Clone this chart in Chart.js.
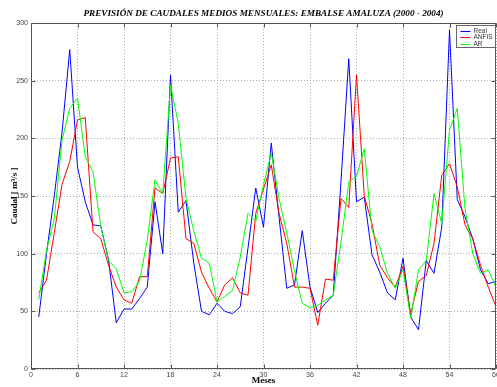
<!DOCTYPE html>
<html>
<head>
<meta charset="utf-8">
<script src="https://cdn.jsdelivr.net/npm/chart.js@4.4.1/dist/chart.umd.min.js"></script>
<style>
  html, body { margin: 0; padding: 0; background: #fff; }
  #wrap { width: 497px; height: 387px; }
</style>
</head>
<body>
<div id="wrap"><canvas id="chart" width="497" height="387"></canvas></div>
<script>
// months 1..60 (2000 - 2004)
const months = [1, 2, 3, 4, 5, 6, 7, 8, 9, 10, 11, 12, 13, 14, 15, 16, 17, 18, 19, 20,
    21, 22, 23, 24, 25, 26, 27, 28, 29, 30, 31, 32, 33, 34, 35, 36, 37, 38, 39, 40,
    41, 42, 43, 44, 45, 46, 47, 48, 49, 50, 51, 52, 53, 54, 55, 56, 57, 58, 59, 60];

const real = [45, 100, 150, 205, 277, 175, 145, 125, 124, 95, 40, 52, 52, 61, 71, 145, 100, 255, 136, 146,
    92, 50, 47, 57, 50, 48, 54, 105, 157, 123, 196, 132, 70, 73, 120, 71, 49, 57, 64, 163,
    269, 145, 149, 99, 84, 66, 60, 96, 45, 34, 94, 83, 123, 294, 147, 132, 113, 86, 74, 76];

const anfis = [66, 77, 118, 160, 180, 216, 218, 119, 113, 90, 71, 60, 57, 80, 80, 157, 152, 183, 184, 113,
    109, 84, 70, 58, 73, 79, 66, 64, 135, 156, 177, 135, 109, 71, 71, 70, 38, 78, 77, 148,
    140, 255, 150, 126, 90, 79, 71, 89, 48, 76, 81, 109, 168, 178, 158, 125, 113, 90, 71, 54];

const ar = [60, 103, 130, 198, 226, 235, 184, 171, 124, 94, 87, 66, 67, 76, 112, 164, 152, 246, 213, 148,
    120, 96, 92, 58, 63, 68, 97, 135, 128, 160, 187, 148, 118, 85, 57, 53, 55, 60, 64, 110,
    162, 167, 191, 120, 106, 83, 70, 86, 44, 86, 94, 152, 126, 207, 226, 139, 100, 83, 86, 71];

const xTicks = [0, 6, 12, 18, 24, 30, 36, 42, 48, 54, 60];
const yTicks = [0, 50, 100, 150, 200, 250, 300];

function toPoints(values) {
    return months.map((m, i) => ({ x: m, y: values[i] }));
}

// MATLAB style box, inward ticks and legend box
const matlabFrame = {
    id: 'matlabFrame',
    afterDraw(chart) {
        const { ctx, chartArea: a, scales: { x, y } } = chart;
        ctx.save();
        ctx.strokeStyle = '#555';
        ctx.lineWidth = 1;
        const l = Math.round(a.left) + 0.5, r = Math.round(a.right) - 0.5;
        const t = Math.round(a.top) + 0.5, b = Math.round(a.bottom) - 0.5;
        ctx.strokeRect(l, t, r - l, b - t);
        ctx.beginPath();
        xTicks.forEach(v => {
            const px = Math.round(x.getPixelForValue(v)) + 0.5;
            ctx.moveTo(px, b); ctx.lineTo(px, b - 4);
            ctx.moveTo(px, t); ctx.lineTo(px, t + 4);
        });
        yTicks.forEach(v => {
            const py = Math.round(y.getPixelForValue(v)) + 0.5;
            ctx.moveTo(l, py); ctx.lineTo(l + 4, py);
            ctx.moveTo(r, py); ctx.lineTo(r - 4, py);
        });
        ctx.stroke();

        // legend
        const w = 39, h = 22;
        const lx = r - w, ly = t + 2;
        ctx.fillStyle = '#fff';
        ctx.fillRect(lx, ly, w, h);
        ctx.strokeStyle = '#666';
        ctx.strokeRect(lx, ly, w, h);
        ctx.font = '6.5px "Liberation Sans", Arial, sans-serif';
        ctx.textBaseline = 'middle';
        ctx.textAlign = 'left';
        chart.data.datasets.forEach((ds, i) => {
            const yy = Math.round(ly + 5 + i * 6.5) + 0.5;
            ctx.strokeStyle = ds.borderColor;
            ctx.beginPath();
            ctx.moveTo(lx + 4, yy);
            ctx.lineTo(lx + 14, yy);
            ctx.stroke();
            ctx.fillStyle = '#333';
            ctx.fillText(ds.label, lx + 17, yy);
        });
        ctx.restore();
    }
};

const tickFont = { family: '"Liberation Sans", Arial, sans-serif', size: 7 };
const labelFont = { family: '"Liberation Serif", "Times New Roman", serif', size: 9, weight: 'bold' };

new Chart(document.getElementById('chart'), {
    type: 'line',
    data: {
        datasets: [
            { label: 'Real', data: toPoints(real), borderColor: '#0000ff', order: 2 },
            { label: 'ANFIS', data: toPoints(anfis), borderColor: '#ff0000', order: 1 },
            { label: 'AR', data: toPoints(ar), borderColor: '#00ff00', order: 0 }
        ]
    },
    options: {
        responsive: false,
        animation: false,
        devicePixelRatio: 1,
        layout: { padding: { top: 0, right: 1, bottom: 0, left: 0 } },
        elements: {
            line: { borderWidth: 1, tension: 0, fill: false },
            point: { radius: 0, hoverRadius: 0 }
        },
        plugins: {
            legend: { display: false },
            tooltip: { enabled: false },
            title: {
                display: true,
                fullSize: false,
                text: 'PREVISIÓN DE CAUDALES MEDIOS MENSUALES: EMBALSE AMALUZA (2000 - 2004)',
                color: '#000',
                font: { family: '"Liberation Serif", "Times New Roman", serif', size: 9.2, weight: 'bold', style: 'italic' },
                padding: { top: 8.5, bottom: 3.5 }
            }
        },
        scales: {
            x: {
                type: 'linear',
                min: 0,
                max: 60,
                afterBuildTicks: scale => { scale.ticks = xTicks.map(v => ({ value: v })); },
                afterFit: scale => { scale.height = 18; scale.paddingLeft = 0; scale.paddingRight = 0; },
                ticks: { font: tickFont, color: '#444', padding: 2, maxRotation: 0, autoSkip: false },
                grid: { color: '#aaa', lineWidth: 1, drawTicks: false },
                border: { display: false, dash: [1, 2] },
                title: { display: true, text: 'Meses', font: labelFont, color: '#000', padding: { top: 0, bottom: 1 } }
            },
            y: {
                min: 0,
                max: 300,
                afterBuildTicks: scale => { scale.ticks = yTicks.map(v => ({ value: v })); },
                afterFit: scale => { scale.width = 31; scale.paddingTop = 0; scale.paddingBottom = 0; },
                ticks: { font: tickFont, color: '#444', padding: 3 },
                grid: { color: '#aaa', lineWidth: 1, drawTicks: false },
                border: { display: false, dash: [1, 2] },
                title: { display: true, text: 'Caudal [ m³/s ]', font: labelFont, color: '#000', padding: { top: 9, bottom: 0 } }
            }
        }
    },
    plugins: [matlabFrame]
});
</script>
</body>
</html>
